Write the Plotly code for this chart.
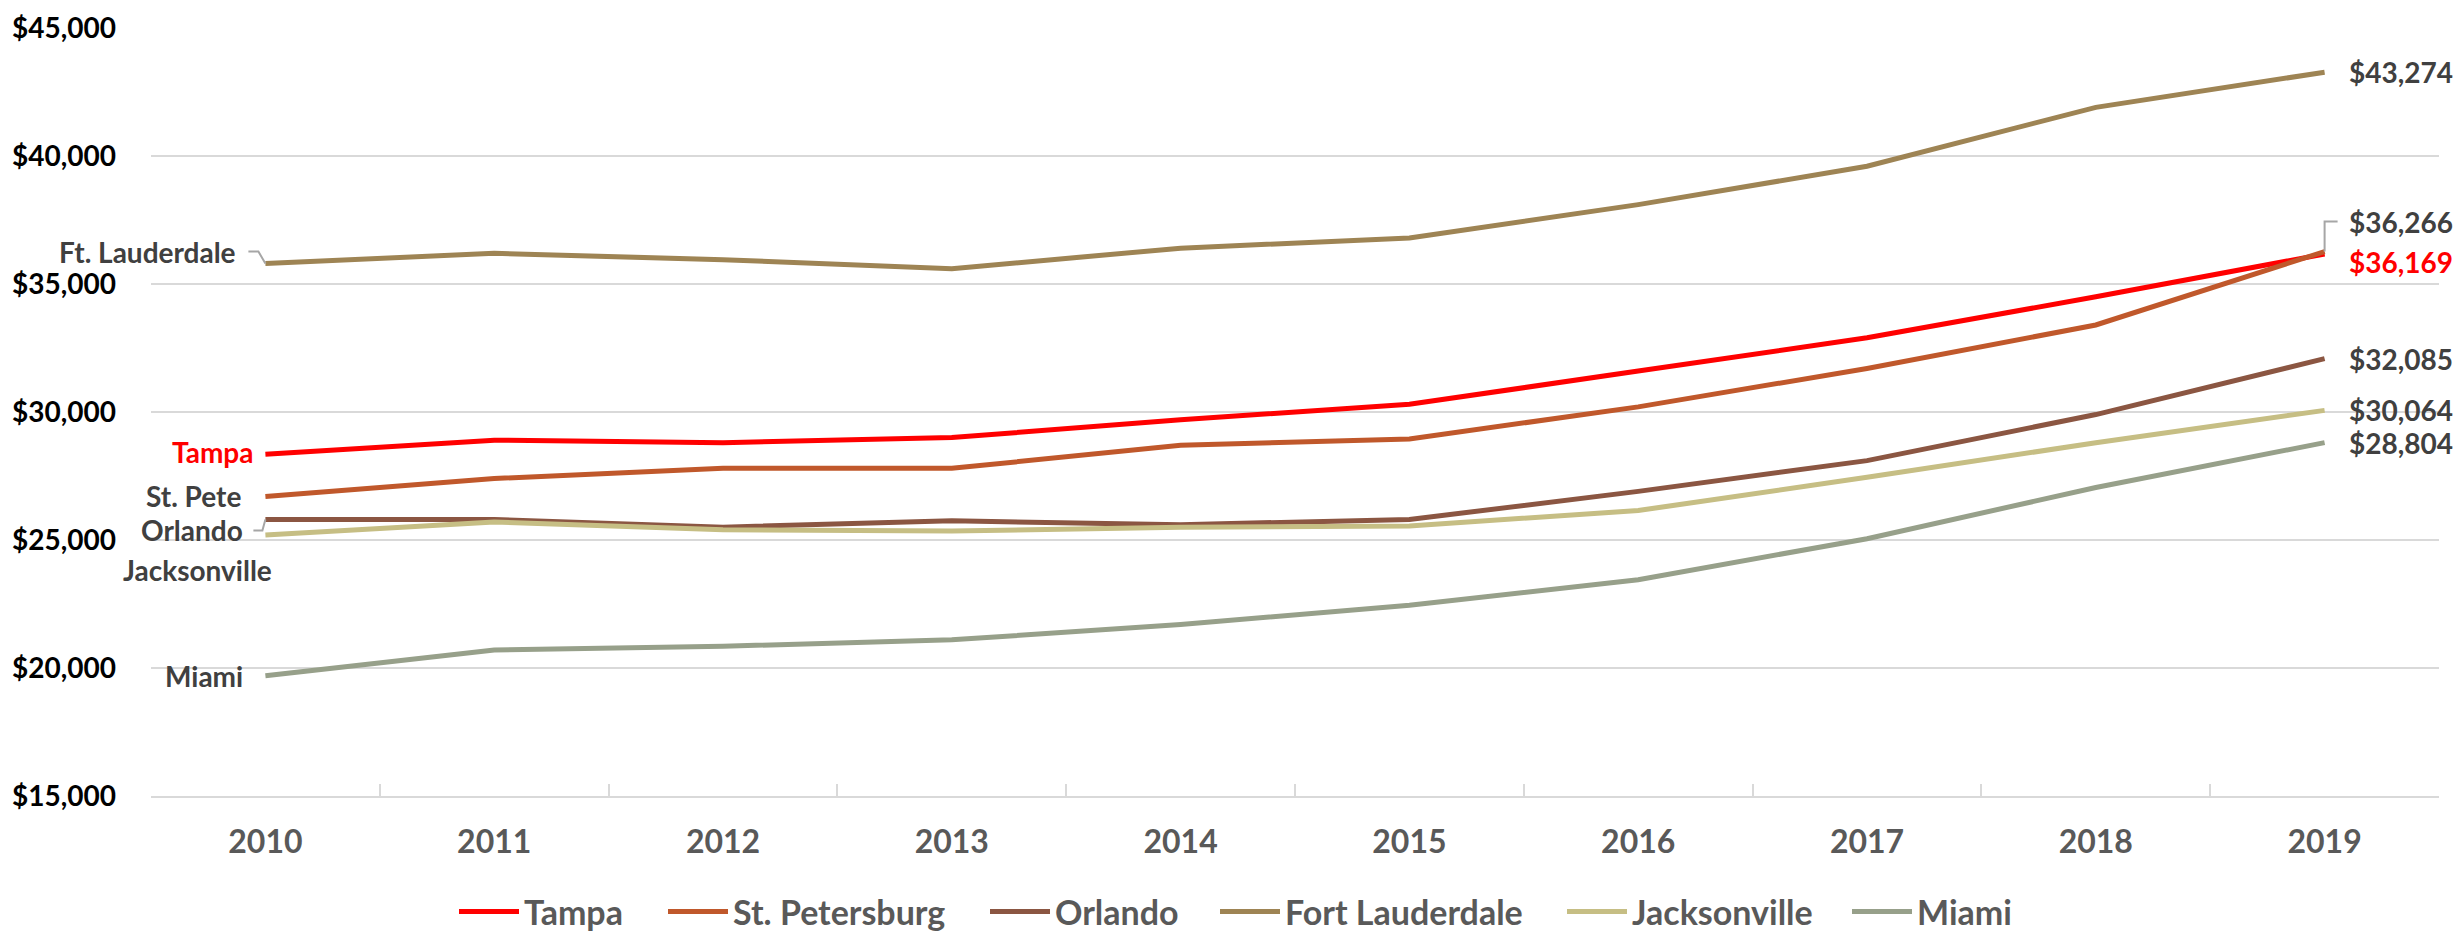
import plotly.graph_objects as go

# Dados
anos = ["2010", "2011", "2012", "2013", "2014", "2015", "2016", "2017", "2018", "2019"]

tampa = [28350, 28900, 28800, 29000, 29700, 30300, 31600, 32900, 34500, 36169]
st_petersburg = [26700, 27400, 27800, 27800, 28700, 28950, 30200, 31700, 33400, 36266]
orlando = [25800, 25800, 25500, 25750, 25600, 25800, 26900, 28100, 29900, 32085]
fort_lauderdale = [35800, 36200, 35950, 35600, 36400, 36800, 38100, 39600, 41900, 43274]
jacksonville = [25200, 25700, 25400, 25350, 25500, 25550, 26150, 27450, 28800, 30064]
miami = [19700, 20700, 20850, 21100, 21700, 22450, 23450, 25050, 27050, 28804]

series = [
    ("Tampa", tampa, "#FF0000"),
    ("St. Petersburg", st_petersburg, "#C0582B"),
    ("Orlando", orlando, "#8B5642"),
    ("Fort Lauderdale", fort_lauderdale, "#9E8454"),
    ("Jacksonville", jacksonville, "#C6BE84"),
    ("Miami", miami, "#97A08A"),
]

# início (px na página) de cada item da legenda
legenda_x = [460, 669, 991, 1221, 1568, 1853]

# rótulos à esquerda: (texto, valores, cor, xshift, yshift, xanchor)
rotulos_esq = [
    ("Ft. Lauderdale", fort_lauderdale, "#404040", -27, 12, "right"),
    ("Tampa", tampa, "#FF0000", -10, 2, "right"),
    ("St. Pete", st_petersburg, "#404040", -22, 0, "right"),
    ("Orlando", orlando, "#404040", -20, -10, "right"),
    ("Jacksonville", jacksonville, "#404040", -68, -35, "center"),
    ("Miami", miami, "#404040", -20, 0, "right"),
]

# rótulos à direita: (valores, cor, yshift)
rotulos_dir = [
    (fort_lauderdale, "#404040", 0),
    (st_petersburg, "#404040", 30),
    (tampa, "#FF0000", -8),
    (orlando, "#404040", 0),
    (jacksonville, "#404040", 0),
    (miami, "#404040", 0),
]

fonte = "Lato"
OFF = 8  # margem padrão do <body> na página gerada
W, H = 2461 - OFF, 932 - OFF
i0, i1 = 0, len(anos) - 1  # posições (índices) do primeiro e último ano

fig = go.Figure()
legendas = {}
for k, (nome, valores, cor) in enumerate(series):
    ref = "legend" if k == 0 else f"legend{k + 1}"
    fig.add_trace(go.Scatter(
        x=anos, y=valores, name=nome, mode="lines",
        line=dict(color=cor, width=5), legend=ref,
    ))
    legendas[ref] = dict(
        orientation="h", xref="container", yref="container",
        x=(legenda_x[k] - OFF - 6) / W, xanchor="left",
        y=(H - (912 - OFF)) / H, yanchor="middle",
        font=dict(family=fonte, size=34, color="#595959", weight="bold"),
        itemwidth=60, bgcolor="rgba(0,0,0,0)",
    )

for texto, valores, cor, dx, dy, anc in rotulos_esq:
    fig.add_annotation(
        x=i0, y=valores[0], text=texto, showarrow=False,
        xanchor=anc, yanchor="middle", xshift=dx, yshift=dy,
        font=dict(family=fonte, size=28, color=cor, weight="bold"),
    )

for valores, cor, dy in rotulos_dir:
    fig.add_annotation(
        x=i1, y=valores[-1], text=f"${valores[-1]:,}", showarrow=False,
        xanchor="left", yanchor="middle", xshift=22, yshift=dy,
        font=dict(family=fonte, size=28, color=cor, weight="bold"),
    )

# linhas de chamada
chamadas = [
    (i0, fort_lauderdale[0], "M0,0 L-7,12 L-17,12"),
    (i0, orlando[0], "M0,0 L-3,-11 L-12,-11"),
    (i1, st_petersburg[-1], "M0,0 L0,30 L13,30"),
]
for xa, ya, caminho in chamadas:
    fig.add_shape(
        type="path", xref="x", yref="y", xsizemode="pixel", ysizemode="pixel",
        xanchor=xa, yanchor=ya, path=caminho,
        line=dict(color="#A6A6A6", width=2),
    )

fig.update_layout(
    width=W, height=H,
    plot_bgcolor="white", paper_bgcolor="white",
    margin=dict(l=151 - OFF, r=22, t=28 - OFF, b=136),
    showlegend=True,
    **legendas,
)
fig.update_xaxes(
    type="category", range=[-0.5, len(anos) - 0.5], autorange=False,
    automargin=False,
    tickson="boundaries", ticks="inside", ticklen=12, tickangle=0,
    tickcolor="#D9D9D9", tickwidth=2, showline=True, linecolor="#D9D9D9",
    linewidth=2, showgrid=False, ticklabelstandoff=17,
    tickfont=dict(family=fonte, size=32, color="#595959", weight="bold"),
)
fig.update_yaxes(
    range=[15000, 45000], dtick=5000, tickprefix="$", tickformat=",",
    automargin=False,
    showgrid=True, gridcolor="#D9D9D9", gridwidth=2, zeroline=False,
    showline=False, ticks="", ticklabelstandoff=34,
    tickfont=dict(family=fonte, size=28, color="#000000", weight="bold"),
)

fig.write_html("out.html")
